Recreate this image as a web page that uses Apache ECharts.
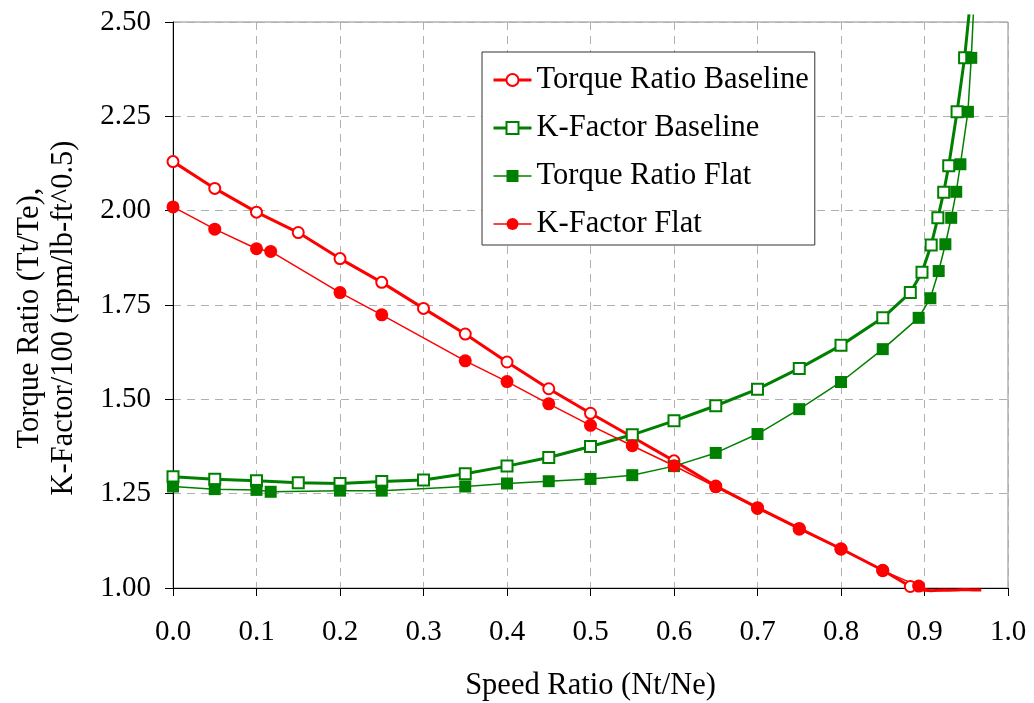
<!DOCTYPE html>
<html>
<head>
<meta charset="utf-8">
<script src="https://cdn.jsdelivr.net/npm/echarts@6/dist/echarts.min.js"></script>
<style>
  html, body { margin: 0; padding: 0; background: #fff; }
  #chart { width: 1034px; height: 703px; }
</style>
</head>
<body>
<div id="chart"></div>
<script>
// Speed ratio sample points (Nt/Ne) for the baseline converter
const speedBaseline = [0, 0.05, 0.1, 0.15, 0.2, 0.25, 0.3, 0.35, 0.4, 0.45, 0.5, 0.55, 0.6,
  0.65, 0.7, 0.75, 0.8, 0.85, 0.883, 0.897, 0.908, 0.916, 0.923, 0.929, 0.939, 0.948];
// Torque ratio, baseline (marked points up to coupling point)
const torqueRatioBaseline = [2.130, 2.059, 1.996, 1.942, 1.873, 1.810, 1.741, 1.673, 1.599,
  1.528, 1.463, 1.400, 1.337, 1.270, 1.213, 1.158, 1.104, 1.047, 1.004];
// Torque ratio, baseline, beyond the coupling point (no markers)
const speedBaselineTail = [0.897, 0.908, 0.916, 0.923, 0.929, 0.939, 0.948, 0.958, 0.968];
const torqueRatioBaselineTail = [0.995, 0.993, 0.994, 0.995, 0.994, 0.995, 0.996, 0.995, 0.995];
// K-factor / 100, baseline
const kFactorBaseline = [1.295, 1.288, 1.284, 1.279, 1.277, 1.282, 1.286, 1.303, 1.323,
  1.346, 1.375, 1.406, 1.443, 1.483, 1.527, 1.582, 1.643, 1.716, 1.783, 1.837, 1.909,
  1.981, 2.049, 2.119, 2.262, 2.405];
const kFactorBaselineExit = [0.9533, 2.52];

// Speed ratio sample points for the flat design
const speedFlat = [0, 0.05, 0.1, 0.117, 0.2, 0.25, 0.35, 0.4, 0.45, 0.5, 0.55, 0.6, 0.65,
  0.7, 0.75, 0.8, 0.85, 0.893, 0.907, 0.917, 0.925, 0.932, 0.938, 0.943, 0.952, 0.956];
const torqueRatioFlat = [1.269, 1.262, 1.260, 1.255, 1.258, 1.258, 1.269, 1.277, 1.283,
  1.289, 1.299, 1.323, 1.358, 1.408, 1.474, 1.546, 1.633, 1.716, 1.768, 1.840, 1.911,
  1.981, 2.050, 2.123, 2.262, 2.405];
const torqueRatioFlatExit = [0.9585, 2.52];
const kFactorFlat = [2.010, 1.951, 1.899, 1.892, 1.783, 1.724, 1.602, 1.547, 1.488, 1.431,
  1.377, 1.324, 1.268, 1.211, 1.156, 1.103, 1.046, 1.005];
const speedFlatTail = [0.907, 0.917, 0.925, 0.932, 0.938, 0.943, 0.952, 0.956, 0.965];
const kFactorFlatTail = [0.994, 0.993, 0.995, 0.994, 0.996, 0.995, 0.996, 0.995, 0.996];

const seriesNames = ['Torque Ratio Baseline', 'K-Factor Baseline', 'Torque Ratio Flat', 'K-Factor Flat'];
const xTicks = { min: 0, max: 1, step: 0.1 };
const yTicks = { min: 1, max: 2.5, step: 0.25 };

const RED = '#ff0000';
const GREEN = '#008000';
const FONT = '"Liberation Serif", "DejaVu Serif", serif';
const THICK = 3;
const THIN = 1.5;

function pairs(xs, ys) {
  return ys.map((y, i) => [xs[i], y]);
}
function bare(xs, ys) {
  return ys.map((y, i) => ({ value: [xs[i], y], symbol: 'none' }));
}

const chart = echarts.init(document.getElementById('chart'), null, { renderer: 'canvas' });

chart.setOption({
  animation: false,
  backgroundColor: '#fff',
  grid: {
    left: 173, right: 26, top: 22, bottom: 115,
    outerBoundsMode: 'none',
    containLabel: false,
    show: true, borderColor: '#8a8a8a', borderWidth: 1, backgroundColor: 'transparent'
  },
  legend: {
    orient: 'vertical',
    left: 482, top: 52,
    backgroundColor: '#fff',
    borderColor: '#333',
    borderWidth: 1,
    padding: [10, 6, 3, 10],
    itemWidth: 38,
    itemHeight: 15,
    itemGap: 12,
    textStyle: { fontFamily: FONT, fontSize: 30.5, color: '#000', lineHeight: 36 },
    data: [
      { name: seriesNames[0], lineStyle: { width: THICK } },
      { name: seriesNames[1], lineStyle: { width: THICK } },
      { name: seriesNames[2], lineStyle: { width: THIN } },
      { name: seriesNames[3], lineStyle: { width: THIN } }
    ]
  },
  xAxis: {
    type: 'value',
    min: xTicks.min, max: xTicks.max, interval: xTicks.step,
    name: 'Speed Ratio (Nt/Ne)',
    nameLocation: 'middle',
    nameGap: 82,
    nameTextStyle: { fontFamily: FONT, fontSize: 30.5, color: '#000' },
    axisLine: { show: true, onZero: false, lineStyle: { color: '#000', width: 1 } },
    axisTick: { show: true, length: 8, lineStyle: { color: '#000' } },
    axisLabel: {
      fontFamily: FONT, fontSize: 29, color: '#000', margin: 30,
      formatter: v => v.toFixed(1)
    },
    splitLine: { show: true, lineStyle: { color: '#b0b0b0', width: 1, type: [8, 6] } }
  },
  yAxis: {
    type: 'value',
    min: yTicks.min, max: yTicks.max, interval: yTicks.step,
    name: 'Torque Ratio (Tt/Te),\nK-Factor/100 (rpm/lb-ft^0.5)',
    nameLocation: 'middle',
    nameGap: 92,
    nameRotate: 90,
    nameTextStyle: {
      fontFamily: FONT, fontSize: 30.5, color: '#000', lineHeight: 34, align: 'center',
      padding: [0, 26, 0, 0]
    },
    axisLine: { show: true, onZero: false, lineStyle: { color: '#000', width: 1 } },
    axisTick: { show: true, length: 8, lineStyle: { color: '#000' } },
    axisLabel: {
      fontFamily: FONT, fontSize: 29, color: '#000', margin: 22,
      formatter: v => v.toFixed(2)
    },
    splitLine: { show: true, lineStyle: { color: '#b0b0b0', width: 1, type: [8, 6] } }
  },
  series: [
    {
      name: seriesNames[0],
      type: 'line',
      clip: false,
      symbol: 'emptyCircle',
      symbolSize: 11,
      itemStyle: { color: RED, borderWidth: 1.6 },
      lineStyle: { color: RED, width: THICK },
      data: pairs(speedBaseline, torqueRatioBaseline).concat(bare(speedBaselineTail, torqueRatioBaselineTail))
    },
    {
      name: seriesNames[1],
      type: 'line',
      clip: false,
      symbol: 'emptyRect',
      symbolSize: 11,
      itemStyle: { color: GREEN, borderWidth: 1.6 },
      lineStyle: { color: GREEN, width: THICK },
      data: pairs(speedBaseline, kFactorBaseline).concat([{ value: kFactorBaselineExit, symbol: 'none' }])
    },
    {
      name: seriesNames[2],
      type: 'line',
      clip: false,
      symbol: 'rect',
      symbolSize: 12,
      itemStyle: { color: GREEN },
      lineStyle: { color: GREEN, width: THIN },
      data: pairs(speedFlat, torqueRatioFlat).concat([{ value: torqueRatioFlatExit, symbol: 'none' }])
    },
    {
      name: seriesNames[3],
      type: 'line',
      clip: false,
      symbol: 'circle',
      symbolSize: 13,
      itemStyle: { color: RED },
      lineStyle: { color: RED, width: THIN },
      data: pairs(speedFlat, kFactorFlat).concat(bare(speedFlatTail, kFactorFlatTail))
    }
  ]
});
</script>
</body>
</html>
